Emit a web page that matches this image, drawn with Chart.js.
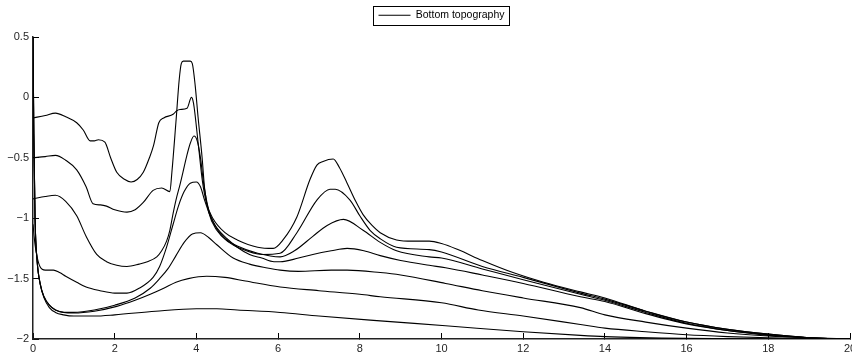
<!DOCTYPE html>
<html>
<head>
<meta charset="utf-8">
<script src="https://cdn.jsdelivr.net/npm/chart.js@4.4.0/dist/chart.umd.min.js"></script>
<style>
  body { margin: 0; background: #fff; }
  canvas { display: block; }
</style>
</head>
<body>
<canvas id="chartArea" width="852" height="358"></canvas>
<script>
// tick labels
const xTicks = [0, 2, 4, 6, 8, 10, 12, 14, 16, 18, 20];
const yTicks = [0.5, 0, -0.5, -1, -1.5, -2];
const yTickLabels = ['0.5', '0', '\u22120.5', '\u22121', '\u22121.5', '\u22122'];

// profiles (top to bottom at x = 0)
const curveAx = [0, 0.3, 0.55, 0.8, 1.07, 1.23, 1.4, 1.5, 1.6, 1.76, 1.9, 2.05, 2.25, 2.4, 2.55, 2.7, 2.85, 2.95, 3.08, 3.2, 3.43, 3.52, 3.6, 3.77, 3.88, 3.93, 4.05, 4.15, 4.25, 4.4, 4.7, 5.0, 5.5, 5.88, 6.12, 6.46, 6.78, 6.95, 7.1, 7.35, 7.5, 7.69, 7.9, 8.08, 8.3, 8.5, 8.9, 9.3, 9.7, 10.0, 10.4, 11, 11.75, 12.5, 13.4, 14, 15, 16, 17, 18, 19, 20];
const curveAy = [-0.17, -0.15, -0.13, -0.16, -0.21, -0.27, -0.36, -0.36, -0.35, -0.37, -0.5, -0.62, -0.68, -0.70, -0.68, -0.62, -0.5, -0.40, -0.21, -0.17, -0.14, -0.11, -0.10, -0.09, 0.0, -0.05, -0.4, -0.7, -0.88, -1.0, -1.12, -1.18, -1.24, -1.25, -1.18, -0.99, -0.68, -0.56, -0.53, -0.51, -0.58, -0.71, -0.86, -0.97, -1.06, -1.12, -1.18, -1.19, -1.19, -1.21, -1.26, -1.35, -1.45, -1.53, -1.61, -1.66, -1.77, -1.86, -1.92, -1.96, -1.99, -2.0];

const curveBx = [0, 0.3, 0.55, 0.8, 1.07, 1.3, 1.47, 1.65, 1.8, 2.0, 2.3, 2.5, 2.7, 2.94, 3.15, 3.35, 3.4, 3.5, 3.58, 3.63, 3.68, 3.85, 3.9, 3.97, 4.04, 4.14, 4.2, 4.3, 4.5, 4.8, 5.07, 5.6, 6.05, 6.46, 6.95, 7.27, 7.4, 7.76, 8.0, 8.25, 8.5, 8.9, 9.7, 10, 11, 12, 13.4, 14, 15, 16, 17, 18, 19, 20];
const curveBy = [-0.50, -0.49, -0.48, -0.52, -0.60, -0.74, -0.88, -0.89, -0.90, -0.93, -0.95, -0.93, -0.87, -0.77, -0.75, -0.78, -0.62, -0.2, 0.15, 0.28, 0.30, 0.30, 0.28, 0.1, -0.16, -0.5, -0.75, -0.95, -1.10, -1.2, -1.25, -1.30, -1.29, -1.12, -0.85, -0.76, -0.76, -0.85, -0.98, -1.10, -1.17, -1.24, -1.26, -1.28, -1.40, -1.49, -1.62, -1.67, -1.77, -1.86, -1.92, -1.96, -1.99, -2.0];

const curveCx = [0, 0.3, 0.55, 0.8, 1.07, 1.3, 1.56, 1.8, 2.05, 2.3, 2.6, 2.8, 3.03, 3.15, 3.27, 3.35, 3.43, 3.5, 3.6, 3.67, 3.76, 3.85, 3.94, 4.02, 4.1, 4.18, 4.3, 4.45, 4.7, 5.0, 5.5, 6.05, 6.4, 6.85, 7.2, 7.6, 8.08, 8.5, 8.9, 9.7, 10, 11, 12, 13.4, 14, 15, 16, 17, 18, 19, 20];
const curveCy = [-0.84, -0.82, -0.81, -0.86, -0.98, -1.15, -1.30, -1.36, -1.39, -1.40, -1.38, -1.36, -1.32, -1.27, -1.19, -1.1, -0.96, -0.85, -0.72, -0.62, -0.49, -0.38, -0.32, -0.36, -0.5, -0.72, -0.93, -1.06, -1.17, -1.23, -1.29, -1.32, -1.27, -1.15, -1.06, -1.01, -1.10, -1.20, -1.27, -1.32, -1.33, -1.42, -1.51, -1.63, -1.68, -1.78, -1.87, -1.93, -1.965, -1.99, -2.0];

const curveDx = [0, 0.05, 0.1, 0.17, 0.3, 0.5, 0.65, 0.8, 1.07, 1.3, 1.64, 2.0, 2.3, 2.6, 2.94, 3.1, 3.27, 3.43, 3.56, 3.7, 3.85, 4.0, 4.1, 4.2, 4.35, 4.5, 4.75, 5.0, 5.3, 5.6, 5.9, 6.05, 6.5, 6.85, 7.3, 7.69, 8.1, 8.5, 9.0, 9.7, 10.1, 11, 12, 13.4, 14, 15, 16, 17, 18, 19, 20];
const curveDy = [-1.05, -1.22, -1.32, -1.40, -1.43, -1.43, -1.45, -1.48, -1.53, -1.57, -1.60, -1.62, -1.62, -1.58, -1.49, -1.40, -1.24, -1.05, -0.9, -0.78, -0.71, -0.70, -0.74, -0.85, -0.99, -1.08, -1.17, -1.24, -1.30, -1.33, -1.36, -1.36, -1.33, -1.30, -1.27, -1.25, -1.27, -1.31, -1.35, -1.39, -1.41, -1.47, -1.54, -1.65, -1.69, -1.79, -1.875, -1.93, -1.97, -1.99, -2.0];

const curveEx = [0, 0.02, 0.05, 0.1, 0.18, 0.27, 0.4, 0.55, 0.75, 1.0, 1.5, 2.0, 2.5, 2.87, 3.1, 3.3, 3.5, 3.7, 3.9, 4.1, 4.3, 4.5, 4.9, 5.3, 5.7, 6.05, 6.5, 7.3, 7.69, 8.5, 9.0, 10.1, 11, 12, 13.4, 14, 15, 16, 17, 18, 19, 20];
const curveEy = [0.5, -0.3, -1.0, -1.35, -1.55, -1.65, -1.72, -1.76, -1.78, -1.78, -1.76, -1.72, -1.66, -1.58, -1.50, -1.42, -1.31, -1.2, -1.13, -1.12, -1.16, -1.22, -1.33, -1.38, -1.41, -1.43, -1.44, -1.43, -1.43, -1.45, -1.47, -1.54, -1.60, -1.66, -1.74, -1.80, -1.86, -1.91, -1.95, -1.975, -1.99, -2.0];

const curveFx = [0, 0.02, 0.05, 0.1, 0.18, 0.27, 0.4, 0.55, 0.75, 1.0, 1.5, 2.05, 2.5, 2.87, 3.2, 3.5, 3.8, 4.25, 4.7, 5.2, 6.05, 7.0, 8.0, 8.5, 10.0, 10.9, 12, 13.4, 14, 15, 16, 17, 18, 19, 20];
const curveFy = [0.5, -0.3, -1.0, -1.35, -1.55, -1.65, -1.72, -1.76, -1.78, -1.785, -1.77, -1.73, -1.68, -1.63, -1.58, -1.53, -1.50, -1.48, -1.49, -1.52, -1.57, -1.60, -1.63, -1.65, -1.70, -1.76, -1.81, -1.88, -1.91, -1.94, -1.965, -1.98, -1.99, -1.995, -2.0];

const curveGx = [0, 0.02, 0.05, 0.1, 0.18, 0.27, 0.4, 0.55, 0.75, 1.0, 1.5, 2.0, 3.0, 4.0, 4.5, 5.0, 6.05, 7.0, 8.5, 10.1, 12, 13.4, 14, 16, 18, 20];
const curveGy = [0.5, -0.3, -1.0, -1.35, -1.55, -1.66, -1.74, -1.78, -1.80, -1.81, -1.81, -1.80, -1.77, -1.75, -1.75, -1.76, -1.78, -1.81, -1.85, -1.89, -1.94, -1.97, -1.98, -1.995, -2.0, -2.0];

const curves = [
  [curveAx, curveAy], [curveBx, curveBy], [curveCx, curveCy], [curveDx, curveDy],
  [curveEx, curveEy], [curveFx, curveFy], [curveGx, curveGy]
];

const FONT = "'Liberation Sans', Arial, Helvetica, sans-serif";

// legend sits at the very top, with a thin frame round the entry
const legendFrame = {
  id: 'legendFrame',
  afterLayout(chart) {
    const lg = chart.legend;
    if (!lg) return;
    const shift = lg.top;
    lg.top -= shift;
    lg.bottom -= shift;
  },
  afterDraw(chart) {
    const hb = chart.legend && chart.legend.legendHitBoxes[0];
    if (!hb) return;
    const ctx = chart.ctx;
    ctx.save();
    ctx.strokeStyle = '#000';
    ctx.lineWidth = 1;
    ctx.strokeRect(Math.round(hb.left - 6) + 0.5, Math.round(hb.top - 4) + 0.5,
      Math.round(hb.width + 10), Math.round(hb.height + 8));
    ctx.restore();
  }
};

const datasets = curves.map(([xs, ys]) => ({
  label: 'Bottom topography',
  data: xs.map((x, i) => ({ x: x, y: ys[i] })),
  borderColor: '#000',
  borderWidth: 1.1,
  pointRadius: 0,
  fill: false,
  cubicInterpolationMode: 'monotone'
}));

new Chart(document.getElementById('chartArea'), {
  type: 'line',
  data: { datasets: datasets },
  options: {
    responsive: false,
    animation: false,
    devicePixelRatio: 1,
    layout: { padding: { left: 0, right: 2, top: 0, bottom: 0 } },
    plugins: {
      tooltip: { enabled: false },
      legend: {
        position: 'top',
        fullSize: false,
        labels: {
          usePointStyle: true,
          pointStyle: 'line',
          pointStyleWidth: 32,
          padding: 10,
          color: '#000',
          font: { family: FONT, size: 10.5 },
          filter: (item) => item.datasetIndex === 0
        }
      }
    },
    scales: {
      x: {
        type: 'linear',
        min: 0,
        max: 20,
        afterBuildTicks: (s) => { s.ticks = xTicks.map(v => ({ value: v })); },
        afterFit: (s) => { s.height = 19; s.paddingLeft = 0; s.paddingRight = 0; },
        grid: { drawOnChartArea: false, drawTicks: true, tickLength: -6, color: '#000' },
        border: { display: true, color: '#222', width: 1.5 },
        ticks: {
          padding: 9,
          maxRotation: 0,
          color: '#262626',
          font: { family: FONT, size: 11 },
          callback: (v) => String(v)
        }
      },
      y: {
        type: 'linear',
        min: -2,
        max: 0.5,
        afterBuildTicks: (s) => { s.ticks = yTicks.map(v => ({ value: v })); },
        afterFit: (s) => { s.width = 33; s.paddingTop = 37; s.paddingBottom = 0; },
        grid: { drawOnChartArea: false, drawTicks: true, tickLength: -6, color: '#000' },
        border: { display: true, color: '#222', width: 1.5 },
        ticks: {
          padding: 10,
          color: '#262626',
          font: { family: FONT, size: 11 },
          callback: (v, i) => yTickLabels[i]
        }
      }
    }
  },
  plugins: [legendFrame]
});
</script>
</body>
</html>
